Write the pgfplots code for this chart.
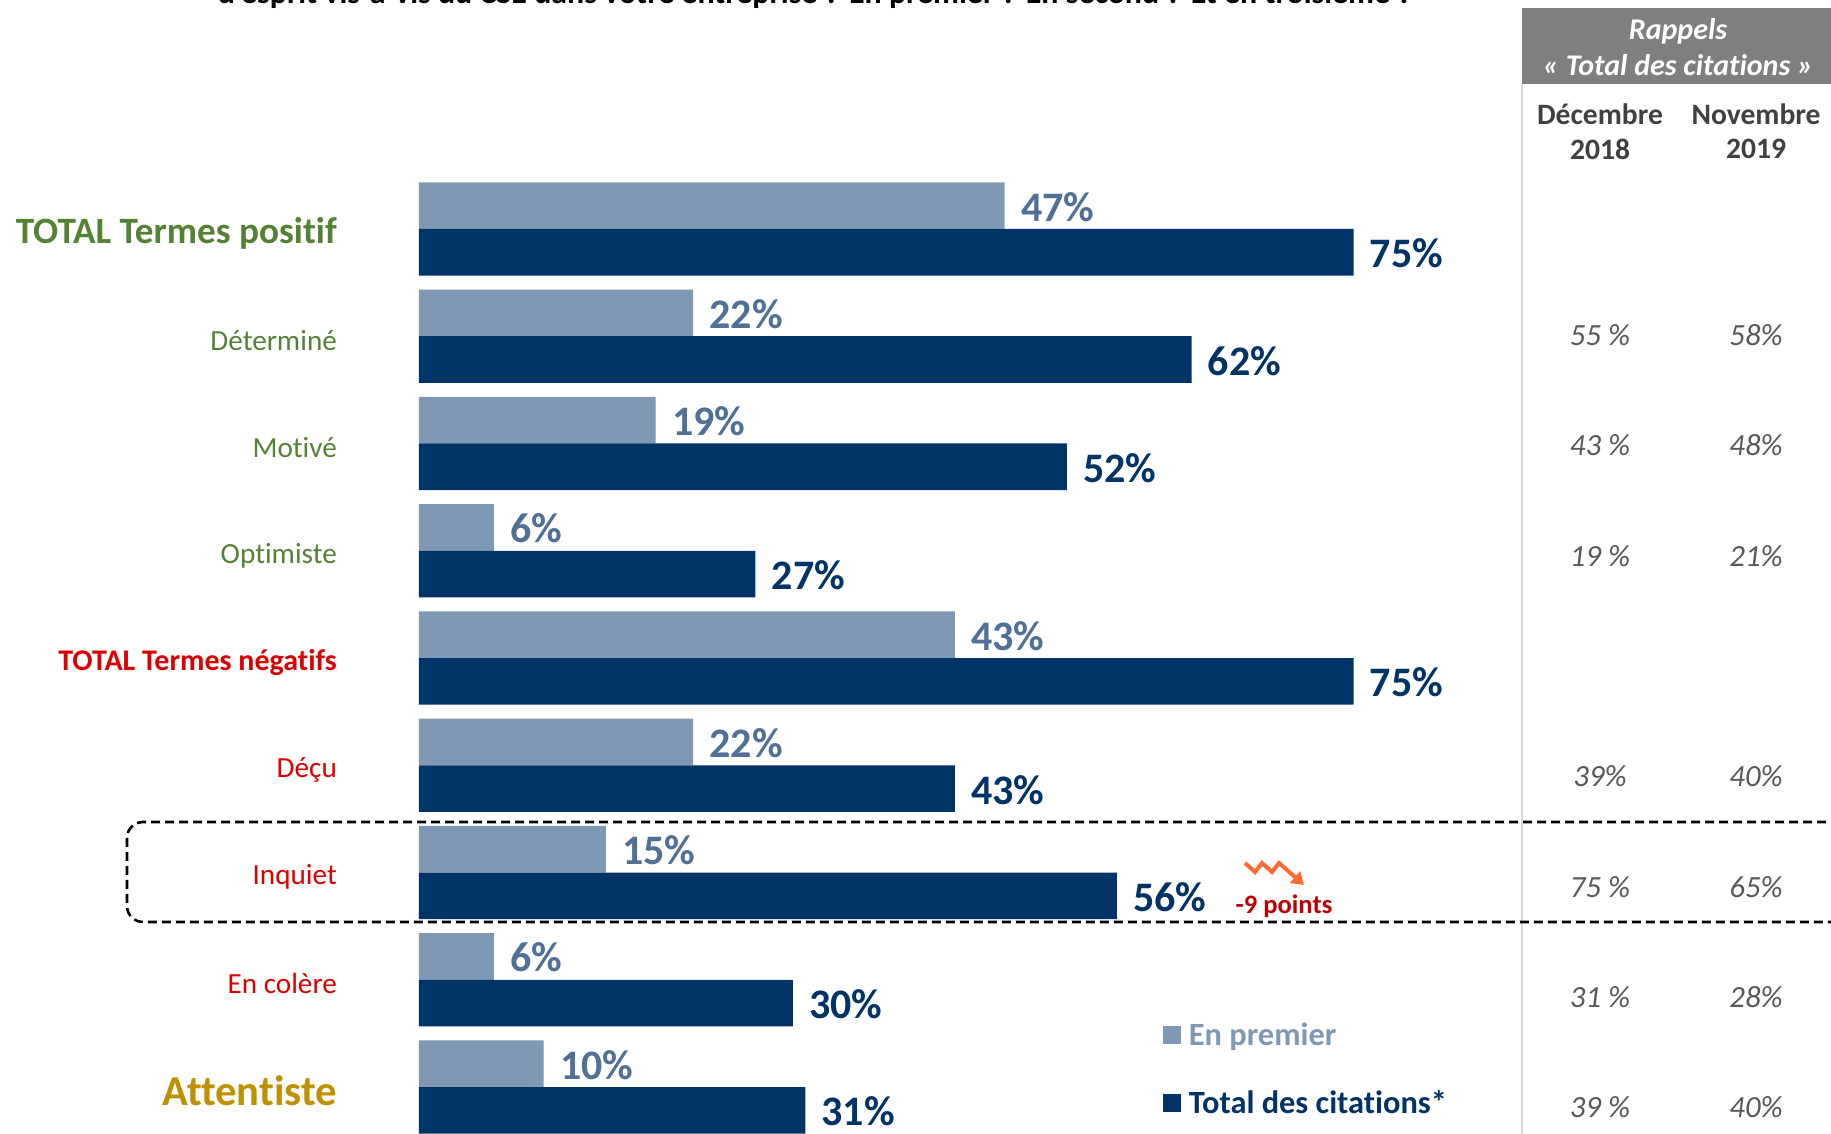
\documentclass[border=0pt]{standalone}
\usepackage{pgfplots}
\usepackage{pgfplotstable}
\pgfplotsset{compat=1.18}
\usepackage{fontspec}
\setmainfont[Ligatures=NoCommon]{Carlito}
\usetikzlibrary{arrows.meta}
\definecolor{barlight}{HTML}{7F99B5}
\definecolor{bardark}{HTML}{003366}
\definecolor{lbllight}{HTML}{4F7097}
\definecolor{posgreen}{HTML}{548235}
\definecolor{negred}{HTML}{DD0000}
\definecolor{gold}{HTML}{BF9000}
\definecolor{panelgray}{HTML}{7F7F7F}
\definecolor{valgray}{HTML}{595959}
\definecolor{headgray}{HTML}{404040}
\definecolor{zigzag}{HTML}{FF6A33}
\newcommand{\fs}[1]{\fontsize{#1}{#1}\selectfont}

\pgfplotstableread{
row premier total
0 47 75
1 22 62
2 19 52
3 6 27
4 43 75
5 22 43
6 15 56
7 6 30
8 10 31
}\datatable

\begin{document}
\begin{tikzpicture}
\path[use as bounding box,clip] (0,0) rectangle (915.5pt,567pt);
\begin{axis}[
  at={(209.5pt,0pt)}, anchor=south west,
  scale only axis, width=706pt, height=567pt,
  xmin=0, xmax=113.32,
  ymin=-2.1352, ymax=8.4382,
  y dir=reverse,
  axis line style={draw=none},
  xtick=\empty,
  ytick={0,1,2,3,4,5,6,7,8},
  yticklabels={
    {\raisebox{-2.5pt}{\fs{18.6}\bfseries\textcolor{posgreen}{TOTAL Termes positif}}},
    {\fs{14.6}\textcolor{posgreen}{Déterminé}},
    {\raisebox{0.5pt}{\fs{14.6}\textcolor{posgreen}{Motivé}}},
    {\fs{14.6}\textcolor{posgreen}{Optimiste}},
    {\fs{15}\bfseries\textcolor{negred}{TOTAL Termes négatifs}},
    {\fs{14.6}\textcolor{negred}{Déçu}},
    {\fs{14.6}\textcolor{negred}{Inquiet}},
    {\raisebox{0.5pt}{\fs{14.6}\textcolor{negred}{En colère}}},
    {\raisebox{1pt}{\fs{21.3}\bfseries\textcolor{gold}{Attentiste}}}
  },
  y tick style={draw=none},
  yticklabel style={anchor=east, inner sep=0pt, xshift=-36.6pt, yshift=-2.3pt},
  xbar=0pt,
  bar width=23.35pt,
  point meta=x,
  /pgf/number format/assume math mode=true,
  nodes near coords={\pgfmathprintnumber{\pgfplotspointmeta}\%},
  nodes near coords align={horizontal},
  legend style={
    at={(0.527,0.102)}, anchor=north west,
    draw=none, fill=none, inner sep=0pt, outer sep=0pt,
    row sep=17pt,
    font=\fs{16.2}\bfseries,
  },
  legend cell align=left,
]
\addplot[fill=barlight, draw=none, bar shift=11.675pt,
  every node near coord/.append style={font=\fs{21}\bfseries, text=lbllight, inner sep=0pt, xshift=8pt, yshift=-0.6pt},
  legend image code/.code={\fill[barlight] (0pt,-4.5pt) rectangle (9pt,4.5pt); \path (10.9pt,0pt);}]
  table[x=premier,y=row] {\datatable};
\addlegendentry{\textcolor{barlight}{En premier}}
\addplot[fill=bardark, draw=none, bar shift=-11.675pt,
  every node near coord/.append style={font=\fs{21}\bfseries, text=bardark, inner sep=0pt, xshift=8pt, yshift=-0.6pt},
  legend image code/.code={\fill[bardark] (0pt,-4.5pt) rectangle (9pt,4.5pt); \path (10.9pt,0pt);}]
  table[x=total,y=row] {\datatable};
\addlegendentry{\textcolor{bardark}{Total des citations*}}
\end{axis}

% Everything below is laid out on a 1831 x 1134 grid, origin top left
\begin{scope}[x=0.5pt,y=-0.5pt,yshift=567pt]
  % question text, cut by the top edge
  \node[anchor=base,inner sep=0pt,font=\fs{15.95}\bfseries] at (815,4)
    {d'esprit vis-à-vis du CSE dans votre entreprise ? En premier ? En second ? Et en troisième ?};

  % reminder panel
  \fill[panelgray] (1522,8) rectangle (1831,84);
  \draw[color=black!15,line width=1pt] (1522,84) -- (1522,1134);
  \node[text=white,font=\fs{15}\bfseries\itshape,inner sep=0pt] at (1678,31) {Rappels};
  \node[text=white,font=\fs{15}\bfseries\itshape,inner sep=0pt] at (1678,65) {« Total des citations »};
  \foreach \x/\a/\b in {1600/Décembre/2018,1756/Novembre/2019}{
    \node[text=headgray,font=\fs{14.8}\bfseries,inner sep=0pt] at (\x,114) {\a};
    \node[text=headgray,font=\fs{14.8}\bfseries,inner sep=0pt] at (\x,149) {\b};
  }
  \foreach \y/\a/\b in {335/55 \%/58\%,445/43 \%/48\%,556/19 \%/21\%,776/39\%/40\%,887/75 \%/65\%,997/31 \%/28\%,1107/39 \%/40\%}{
    \node[text=valgray,font=\fs{15.4}\itshape,inner sep=0pt] at (1600,\y) {\a};
    \node[text=valgray,font=\fs{15.4}\itshape,inner sep=0pt] at (1756,\y) {\b};
  }

  % highlight around the "Inquiet" row
  \draw[black,line width=1.3pt,dash pattern=on 4.5pt off 2.5pt,rounded corners=8pt]
    (1840,822) -- (127,822) -- (127,922) -- (1840,922);

  % change against the previous wave
  \draw[zigzag,line width=2pt,-{Triangle[length=6pt,width=7.5pt]}]
    (1245,863) -- (1255,872) -- (1262,863) -- (1272,872) -- (1279,863) -- (1304,885);
  \node[text=red!75!black,font=\fs{13.3}\bfseries,inner sep=0pt] at (1284,906) {-9 points};
\end{scope}
\end{tikzpicture}
\end{document}
